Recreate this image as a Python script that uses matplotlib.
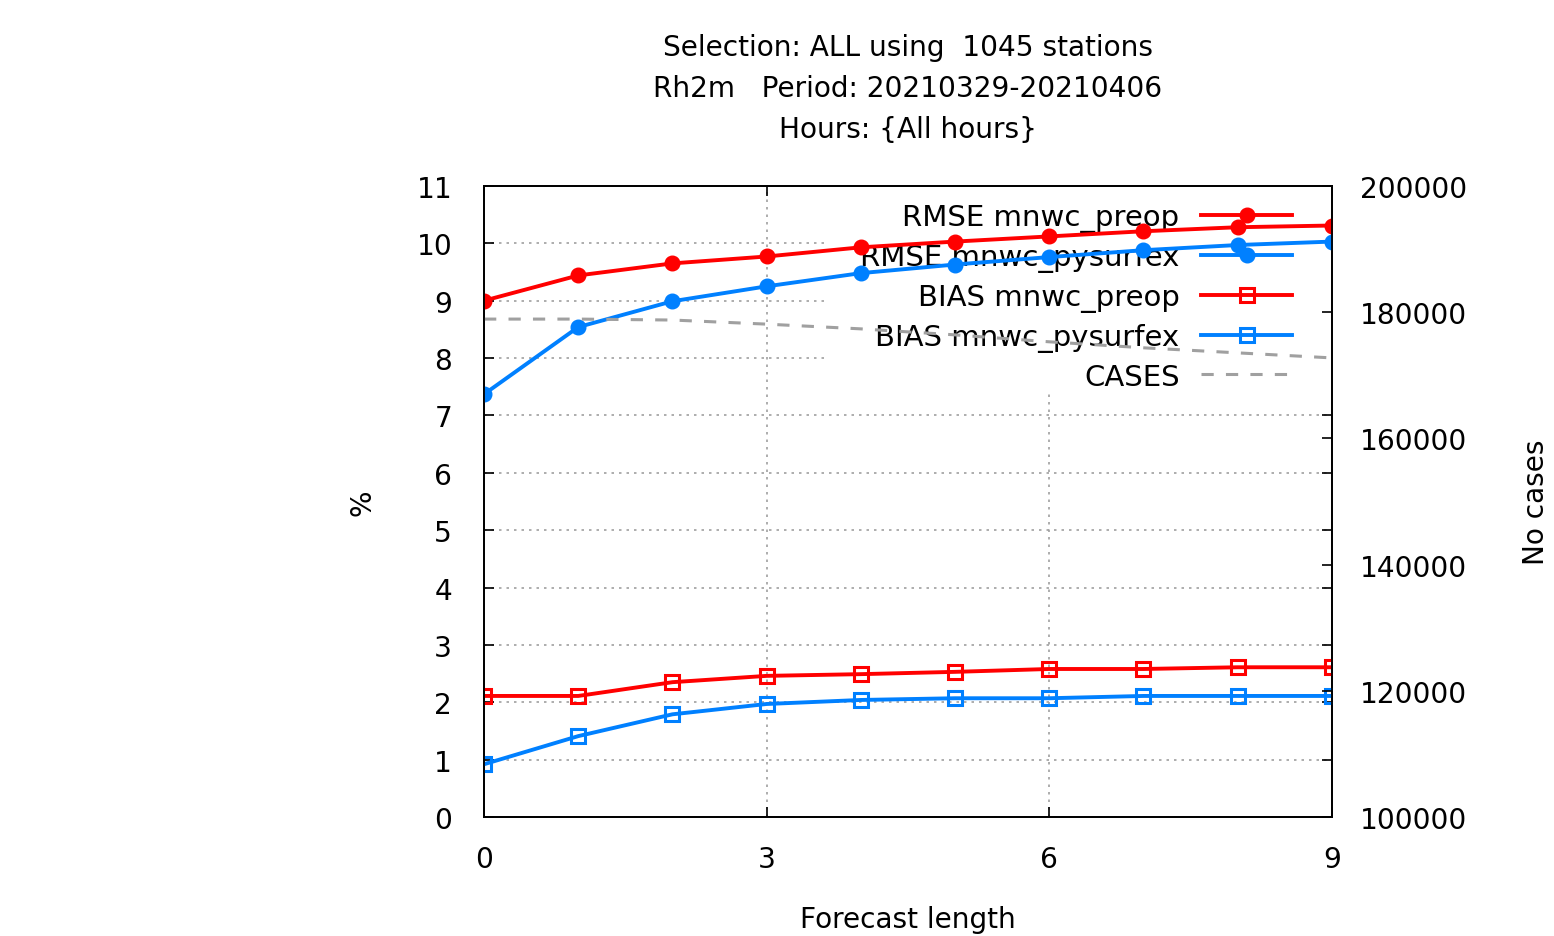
import matplotlib
matplotlib.use("Agg")
import matplotlib.pyplot as plt
from matplotlib.patches import Rectangle

# forecast lengths (hours)
lead = [0, 1, 2, 3, 4, 5, 6, 7, 8, 9]

rmse_preop = [9.00, 9.44, 9.65, 9.77, 9.93, 10.03, 10.12, 10.21, 10.28, 10.31]
rmse_pysurfex = [7.37, 8.54, 8.99, 9.25, 9.48, 9.63, 9.76, 9.88, 9.97, 10.03]
bias_preop = [2.11, 2.11, 2.35, 2.46, 2.49, 2.53, 2.58, 2.58, 2.61, 2.61]
bias_pysurfex = [0.92, 1.41, 1.79, 1.97, 2.04, 2.07, 2.07, 2.11, 2.11, 2.11]
cases = [178900, 178900, 178750, 178100, 177350, 176400, 175300, 174350, 173550, 172750]

red = '#ff0000'
blue = '#0080ff'
gray = '#a0a0a0'
fs = 20.2

fig = plt.figure(figsize=(15.54, 9.37), dpi=100)
ax = fig.add_axes([0.3115, 0.127, 0.5455, 0.6735])
ax2 = ax.twinx()

ax.plot(lead, rmse_preop, color=red, lw=2.8, marker='o', ms=10.5, label='RMSE mnwc_preop', zorder=3)
ax.plot(lead, rmse_pysurfex, color=blue, lw=2.8, marker='o', ms=10.5, label='RMSE mnwc_pysurfex', zorder=3)
ax.plot(lead, bias_preop, color=red, lw=2.8, marker='s', ms=10, mfc='none', mew=2.2, label='BIAS mnwc_preop', zorder=3)
ax.plot(lead, bias_pysurfex, color=blue, lw=2.8, marker='s', ms=10, mfc='none', mew=2.2, label='BIAS mnwc_pysurfex', zorder=3)
cl, = ax2.plot(lead, cases, color=gray, lw=2.2, dashes=(4, 4), label='CASES')

ax.set_xlim(0, 9)
ax.set_ylim(0, 11)
ax2.set_ylim(100000, 200000)
ax.set_xticks([0, 3, 6, 9])
ax.set_yticks(range(0, 12))
ax2.set_yticks(range(100000, 200001, 20000))

ax.grid(True, color=gray, linestyle=(0, (1.5, 3)), lw=1.2)
ax.tick_params(direction='in', length=7, width=1.2, labelsize=fs, top=True, right=True)
ax.tick_params(axis='y', pad=23)
ax.tick_params(axis='x', pad=20)
ax2.tick_params(direction='in', length=7, width=1.2, labelsize=fs, pad=20)
for a in (ax, ax2):
    for s in a.spines.values():
        s.set_linewidth(1.3)

ax.set_xlabel('Forecast length', fontsize=fs, labelpad=23)
ax.set_ylabel('%', fontsize=fs, labelpad=29)
ax2.set_ylabel('No cases', fontsize=fs, labelpad=40)

ax.set_title('Selection: ALL using  1045 stations\nRh2m   Period: 20210329-20210406\nHours: {All hours}',
             fontsize=fs, pad=35, linespacing=1.6)

# opaque key area, hides the grid but not the curves
ax.add_patch(Rectangle((0.402, 0.67), 0.598, 0.33, transform=ax.transAxes,
                       facecolor='white', edgecolor='none', zorder=1.8))

h, l = ax.get_legend_handles_labels()
leg = ax.legend(h + [cl], l + ['CASES'], loc='upper right', bbox_to_anchor=(0.9735, 1.0),
                fontsize=21, markerfirst=False, handlelength=3.1, handletextpad=0.75,
                labelspacing=0.37, borderpad=0.6, borderaxespad=0.0, frameon=False)
leg.set_zorder(2)

fig.savefig('out.png', dpi=100)
